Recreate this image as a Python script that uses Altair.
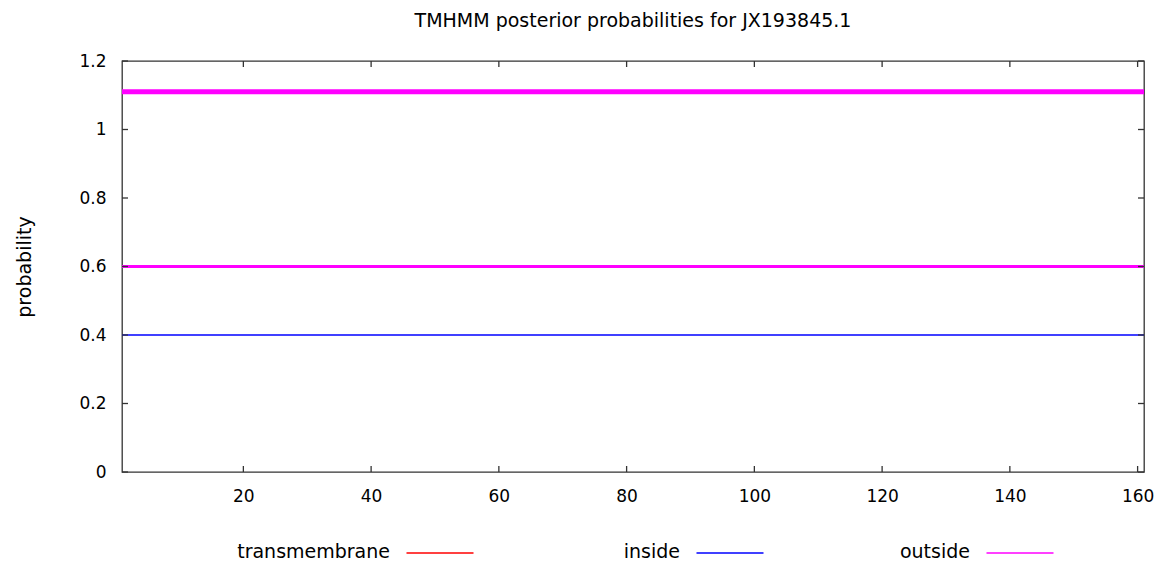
import altair as alt
import pandas as pd

chart_title = "TMHMM posterior probabilities for JX193845.1"
y_title = "probability"
positions = [1, 161]
outside_prob = [0.6, 0.6]
inside_prob = [0.4, 0.4]
topology_level = [1.11, 1.11]
x_ticks = [20, 40, 60, 80, 100, 120, 140, 160]
y_ticks = [0, 0.2, 0.4, 0.6, 0.8, 1.0, 1.2]
legend_labels = ["transmembrane", "inside", "outside"]
legend_colors = ["#ff0000", "#0000ff", "#ff00ff"]

W, H = 1022, 411
FONT = "DejaVu Sans"
AXC = "#333333"

rows = []
for name, vals in [("topology", topology_level), ("outside", outside_prob), ("inside", inside_prob)]:
    for p, v in zip(positions, vals):
        rows.append({"series": name, "pos": p, "prob": v})
lines_df = pd.DataFrame(rows)

xscale = alt.Scale(domain=[1, 161], nice=False, zero=False)
yscale = alt.Scale(domain=[0, 1.2], nice=False, zero=False)

x_axis = alt.Axis(values=x_ticks, ticks=False, domain=False, grid=False,
                  labelPadding=16, title=None, labelFont=FONT, labelFontSize=17,
                  labelColor="#000")
y_axis = alt.Axis(values=y_ticks, format="~g", ticks=False, domain=False, grid=False,
                  labelPadding=16, labelFont=FONT, labelFontSize=17, labelColor="#000",
                  title=y_title, titleX=-98, titleY=H / 2, titleAngle=270,
                  titleAlign="center", titleBaseline="middle", titleFont=FONT,
                  titleFontSize=19, titleFontWeight="normal", titleColor="#000")

lines = alt.Chart(lines_df).mark_line(strokeCap="butt", opacity=1).encode(
    x=alt.X("pos:Q", scale=xscale, axis=x_axis),
    y=alt.Y("prob:Q", scale=yscale, axis=y_axis),
    color=alt.Color("series:N",
                    scale=alt.Scale(domain=["topology", "outside", "inside"],
                                    range=["#ff00ff", "#ff00ff", "#0000ff"]),
                    legend=None),
    strokeWidth=alt.StrokeWidth("series:N",
                                scale=alt.Scale(domain=["topology", "outside", "inside"],
                                                range=[5, 1.3, 1.3]),
                                legend=None),
    detail="series:N",
)

xt = pd.DataFrame({"v": x_ticks})
yt = pd.DataFrame({"v": y_ticks})
bottom_ticks = alt.Chart(xt).mark_rule(color=AXC, strokeWidth=1.3).encode(
    x=alt.X("v:Q", scale=xscale, axis=None), y=alt.value(H), y2=alt.value(H - 6))
top_ticks = alt.Chart(xt).mark_rule(color=AXC, strokeWidth=1.3).encode(
    x=alt.X("v:Q", scale=xscale, axis=None), y=alt.value(0), y2=alt.value(6))
left_ticks = alt.Chart(yt).mark_rule(color=AXC, strokeWidth=1.3).encode(
    y=alt.Y("v:Q", scale=yscale, axis=y_axis), x=alt.value(0), x2=alt.value(6))
right_ticks = alt.Chart(yt).mark_rule(color=AXC, strokeWidth=1.3).encode(
    y=alt.Y("v:Q", scale=yscale, axis=y_axis), x=alt.value(W - 6), x2=alt.value(W))

leg_df = pd.DataFrame({"label": legend_labels, "color": legend_colors})
leg_x = alt.X("label:N", scale=alt.Scale(type="point", domain=legend_labels,
                                         range=[318, 898], padding=0), axis=None)
leg_lines = alt.Chart(leg_df).mark_tick(orient="horizontal", size=67, thickness=1.5,
                                        opacity=1).encode(
    x=leg_x, y=alt.value(H + 81),
    color=alt.Color("color:N", scale=None, legend=None))
leg_text = alt.Chart(leg_df).mark_text(align="right", baseline="middle", dx=-50,
                                       fontSize=19, font=FONT, color="#000").encode(
    x=leg_x, y=alt.value(H + 80), text="label:N")

chart = alt.layer(lines, bottom_ticks, top_ticks, left_ticks, right_ticks,
                  leg_lines, leg_text).resolve_scale(x="independent").properties(
    width=W, height=H,
    title=alt.TitleParams(chart_title, fontSize=19, font=FONT, fontWeight="normal",
                          anchor="middle", offset=21, color="#000"),
    padding={"left": 114, "top": 53, "right": 15, "bottom": 90},
    autosize=alt.AutoSizeParams(type="none"),
    background="white",
).configure_view(stroke=AXC, strokeWidth=1.3)

chart.save("out.html", embed_options={"renderer": "svg", "actions": False})
